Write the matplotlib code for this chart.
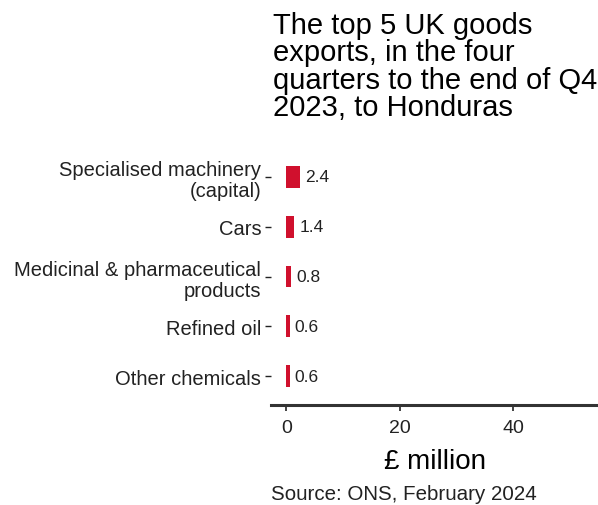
import matplotlib
matplotlib.use("Agg")
import matplotlib.pyplot as plt

# data
categories = [
    "Specialised machinery\n(capital)",
    "Cars",
    "Medicinal & pharmaceutical\nproducts",
    "Refined oil",
    "Other chemicals",
]
values = [2.4, 1.4, 0.8, 0.6, 0.6]
x_ticks = [0, 20, 40]

bar_colour = "#d0102d"
text_colour = "#222222"

plt.rcParams["font.family"] = ["Liberation Sans", "DejaVu Sans"]

fig = plt.figure(figsize=(5.98, 5.06), dpi=100)
ax = fig.add_axes([271 / 598, 1 - 406 / 506, (598 - 271) / 598, (406 - 155) / 506])

ypos = list(range(len(categories)))
ax.barh(ypos, values, height=0.44, color=bar_colour)
for y, v in zip(ypos, values):
    ax.text(v + 0.9, y, f"{v:.1f}", va="center", ha="left", fontsize=12.5, color=text_colour)

ax.set_yticks(ypos)
ax.set_yticklabels(categories, fontsize=14.5, color=text_colour, linespacing=1.15)
ax.set_ylim(4.58, -0.46)
ax.set_xlim(-2.7, 55)
ax.set_xticks(x_ticks)
ax.tick_params(axis="x", labelsize=14, colors=text_colour, length=4, width=1.2, pad=6)
ax.tick_params(axis="y", length=4, width=1.0, pad=3, colors=text_colour)

for side in ["top", "right", "left"]:
    ax.spines[side].set_visible(False)
ax.spines["bottom"].set_linewidth(2.2)
ax.spines["bottom"].set_color("#333333")

ax.set_xlabel("£ million", fontsize=20, color="black", labelpad=9)

fig.text(273 / 598, 1 - 12 / 506,
         "The top 5 UK goods\nexports, in the four\nquarters to the end of Q4\n2023, to Honduras",
         fontsize=21, va="top", ha="left", color="black", linespacing=0.97)
fig.text(271 / 598, 1 - 495 / 506, "Source: ONS, February 2024",
         fontsize=14.8, va="center", ha="left", color=text_colour)

fig.savefig("out.png", dpi=100)
